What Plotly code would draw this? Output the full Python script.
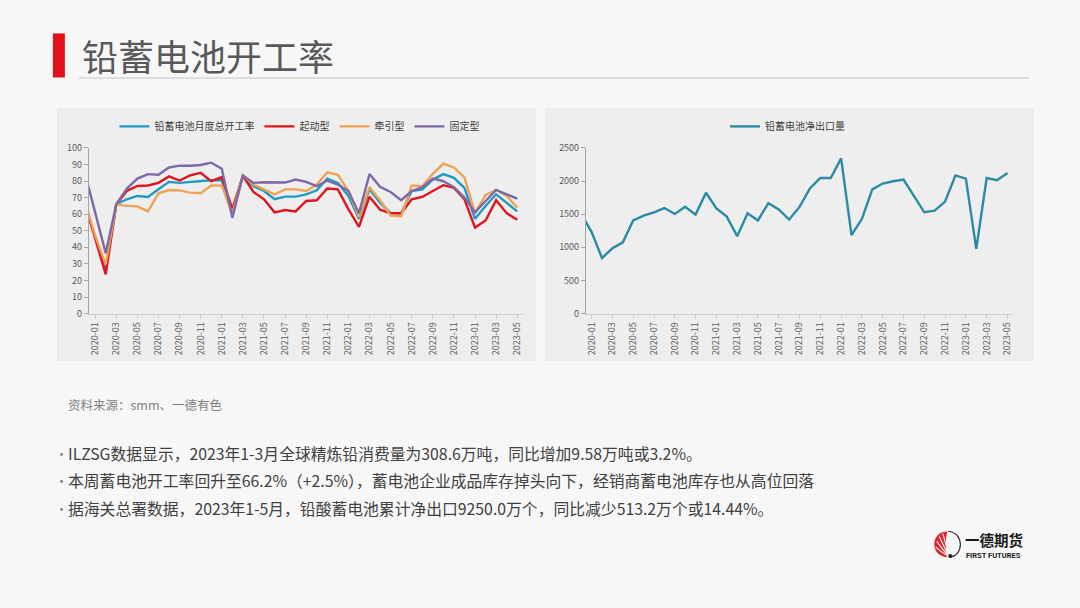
import plotly.graph_objects as go

W, H = 1080, 608
FONT = "Noto Sans CJK SC, Microsoft YaHei, sans-serif"

# ---------------- data ----------------
# index -1 = 2019-12 (partly visible at the y axis), 0..40 = 2020-01..2023-05
months = ["2019-12"] + [f"{y}-{m:02d}" for y in range(2020, 2024) for m in range(1, 13)][:41]
x_idx = list(range(-1, 41))
tick_idx = list(range(0, 41, 2))
tick_text = [months[i + 1] for i in tick_idx]

total_rate = [66, 46, 27, 66, 69, 71, 70.4, 75, 79.5, 78.9, 79.5, 80.3, 80.5, 80.5, 59.8, 83.2,
              76.9, 74, 69, 70.6, 70.6, 72, 74.4, 81.5, 78.9, 71, 57.2, 75, 67, 60.6, 60.6, 74,
              75, 80.9, 84.2, 81.9, 75.9, 57.2, 65, 72, 66.7, 61.7]
starter = [67, 45, 23.7, 66, 74, 77, 77.3, 78.9, 82.8, 80.3, 83.4, 85, 79.9, 82.4, 63.1, 83.2,
           73.4, 69, 61.1, 62.5, 61.7, 68, 68.4, 75.5, 75, 63.1, 52.3, 70.6, 62.7, 60.6, 60.6, 69,
           70.4, 74, 77.5, 75.9, 69, 51.9, 56.2, 68.4, 60.6, 56.6]
traction = [68.3, 47, 29.6, 66, 65, 64.7, 61.7, 72.6, 74.6, 74.4, 73, 72.6, 77.3, 77.3, 60.2, 83.4,
            77.9, 75, 72, 75, 75, 74, 77.9, 85.2, 83.8, 74, 58.2, 76.3, 68.4, 59.2, 58.8, 77.3,
            76.9, 84.4, 90.5, 88.2, 82.2, 60.6, 71.6, 74.6, 71, 64]
stationary = [85.5, 61.5, 36.5, 66, 75.5, 81.5, 84.2, 83.8, 88.2, 89.3, 89.2, 89.7, 91.1, 87.4, 57.8, 83.4,
              78.9, 79.3, 79.1, 79.1, 80.9, 79.5, 76.9, 80.3, 77.9, 74, 60.6, 84.2, 76.5, 73.4, 68.4, 74,
              76.3, 81.5, 79.9, 76.3, 70, 61.1, 68, 74.6, 72, 69.4]
net_export = [1505, 1230, 838, 986, 1075, 1405, 1479, 1529, 1593, 1504, 1612, 1494, 1824, 1588, 1464, 1169,
              1514, 1405, 1667, 1573, 1420, 1610, 1889, 2046, 2046, 2342, 1183, 1430, 1874, 1963, 1997, 2022,
              1775, 1529, 1553, 1691, 2086, 2036, 976, 2046, 2012, 2120]

left_names = ["铅蓄电池月度总开工率", "起动型", "牵引型", "固定型"]
left_series = [total_rate, starter, traction, stationary]
left_colors = ["#1f9ac2", "#e0141c", "#f0a254", "#7d68a8"]
right_name = "铅蓄电池净出口量"
right_color = "#2a8ba3"

title = "铅蓄电池开工率"
source = "资料来源：smm、一德有色"
bullets = [
    "ILZSG数据显示，2023年1-3月全球精炼铅消费量为308.6万吨，同比增加9.58万吨或3.2%。",
    "本周蓄电池开工率回升至66.2%（+2.5%），蓄电池企业成品库存掉头向下，经销商蓄电池库存也从高位回落",
    "据海关总署数据，2023年1-5月，铅酸蓄电池累计净出口9250.0万个，同比减少513.2万个或14.44%。",
]


def px(x):
    return x / W


def py(y):
    return 1 - y / H


def pt(x, y):
    return f"{px(x):.5f},{py(y):.5f}"


fig = go.Figure()

for name, ys, c in zip(left_names, left_series, left_colors):
    fig.add_trace(go.Scatter(x=x_idx, y=ys, name=name, mode="lines",
                             line=dict(color=c, width=2.4), xaxis="x", yaxis="y", legend="legend"))

fig.add_trace(go.Scatter(x=x_idx, y=net_export, name=right_name, mode="lines",
                         line=dict(color=right_color, width=2.4), xaxis="x2", yaxis="y2", legend="legend2"))

tickfont = dict(family=FONT, size=9, color="#595959")
axis_common = dict(showgrid=False, zeroline=False, showline=True, ticks="outside", ticklen=4,
                   tickfont=tickfont, fixedrange=True)

fig.update_layout(
    width=W, height=H, margin=dict(l=0, r=0, t=0, b=0),
    paper_bgcolor="#f7f7f7", plot_bgcolor="rgba(0,0,0,0)",
    font=dict(family=FONT, color="#404040"),
    xaxis=dict(domain=[px(88), px(523)], range=[-0.6, 40.55], tickmode="array",
               tickvals=tick_idx, ticktext=tick_text, tickangle=-90, linecolor="#d0d0d0",
               tickcolor="#d0d0d0", anchor="y", **axis_common),
    yaxis=dict(domain=[py(313.3), py(144)], range=[0, 100], dtick=10, linecolor="#a6a6a6",
               tickcolor="#a6a6a6", anchor="x", **axis_common),
    xaxis2=dict(domain=[px(586), px(1013)], range=[-0.55, 40.45], tickmode="array",
                tickvals=tick_idx, ticktext=tick_text, tickangle=-90, linecolor="#d0d0d0",
                tickcolor="#d0d0d0", anchor="y2", **axis_common),
    yaxis2=dict(domain=[py(313.3), py(144)], range=[0, 2500], dtick=500, linecolor="#a6a6a6",
                tickcolor="#a6a6a6", anchor="x2", **axis_common),
    legend=dict(orientation="h", x=px(299), y=py(122), xanchor="center", yanchor="middle",
                bgcolor="rgba(0,0,0,0)", font=dict(family=FONT, size=10, color="#404040"),
                itemwidth=30, tracegroupgap=0),
    legend2=dict(orientation="h", x=px(788), y=py(122), xanchor="center", yanchor="middle",
                 bgcolor="rgba(0,0,0,0)", font=dict(family=FONT, size=10, color="#404040"),
                 itemwidth=30),
    showlegend=True,
)

shapes = [
    # chart panels
    dict(type="rect", xref="paper", yref="paper", x0=px(57), x1=px(535), y0=py(361), y1=py(104),
         fillcolor="#eeeeee", line=dict(color="#e6e6e6", width=1), layer="below"),
    dict(type="rect", xref="paper", yref="paper", x0=px(546), x1=px(1034), y0=py(361), y1=py(104),
         fillcolor="#eeeeee", line=dict(color="#e6e6e6", width=1), layer="below"),
    # title bar and underline
    dict(type="rect", xref="paper", yref="paper", x0=px(52), x1=px(64), y0=py(72), y1=py(27),
         fillcolor="#e3101b", line=dict(width=0), layer="below"),
    dict(type="line", xref="paper", yref="paper", x0=px(78), x1=px(1030), y0=py(72.5), y1=py(72.5),
         line=dict(color="#d6d6d6", width=1.5), layer="below"),
]

# ---- logo emblem (red shell with stripes, black arc and dot) ----
cx, top, bot = 948, 536, 562
red_path = (f"M{pt(cx, top)} C{pt(cx - 17.3, top)} {pt(cx - 17.3, bot)} {pt(cx, bot)} "
            f"Q{pt(cx - 3, 549)} {pt(cx, top)} Z")
shapes.append(dict(type="path", xref="paper", yref="paper", path=red_path,
                   fillcolor="#e0262d", line=dict(width=0)))
for ex, ey in [(936.5, 552), (937.5, 546), (940, 541), (943.5, 537.8)]:
    p = f"M{pt(cx + 1, bot - 1)} Q{pt((ex + cx) / 2 + 2, (ey + bot) / 2 + 2)} {pt(ex, ey)}"
    shapes.append(dict(type="path", xref="paper", yref="paper", path=p,
                       line=dict(color="#f7f7f7", width=1.1)))
arc = f"M{pt(cx + 1, top)} C{pt(cx + 17, top + 0.5)} {pt(cx + 17, bot - 0.5)} {pt(cx + 2, bot)}"
shapes.append(dict(type="path", xref="paper", yref="paper", path=arc,
                   line=dict(color="#222222", width=1.1)))
shapes.append(dict(type="circle", xref="paper", yref="paper", x0=px(949), x1=px(953), y0=py(563),
                   y1=py(559), fillcolor="#222222", line=dict(width=0)))

annotations = [
    dict(text=title, x=px(79), y=py(49), xref="paper", yref="paper", xanchor="left", yanchor="middle",
         showarrow=False, font=dict(family=FONT, size=36, color="#595959")),
    dict(text=source, x=px(65), y=py(406), xref="paper", yref="paper", xanchor="left", yanchor="middle",
         showarrow=False, font=dict(family=FONT, size=12.5, color="#7f7f7f")),
    dict(text="<b>一德期货</b>", x=px(964), y=py(544.5), xref="paper", yref="paper", xanchor="left",
         yanchor="middle", showarrow=False, font=dict(family=FONT, size=14.5, color="#1a1a1a")),
    dict(text="<b>FIRST FUTURES</b>", x=px(965), y=py(560), xref="paper", yref="paper", xanchor="left",
         yanchor="middle", showarrow=False, font=dict(family="Roboto, sans-serif", size=7.5, color="#1a1a1a")),
]
for k, t in enumerate(bullets):
    yy = 456 + 28 * k
    annotations.append(dict(text="•", x=px(52), y=py(yy), xref="paper", yref="paper", xanchor="left",
                            yanchor="middle", showarrow=False,
                            font=dict(family=FONT, size=13, color="#7f7f7f")))
    annotations.append(dict(text=t, x=px(65), y=py(yy), xref="paper", yref="paper", xanchor="left",
                            yanchor="middle", showarrow=False,
                            font=dict(family=FONT, size=15.8, color="#404040")))

fig.update_layout(shapes=shapes, annotations=annotations)

fig.write_html("out.html")
